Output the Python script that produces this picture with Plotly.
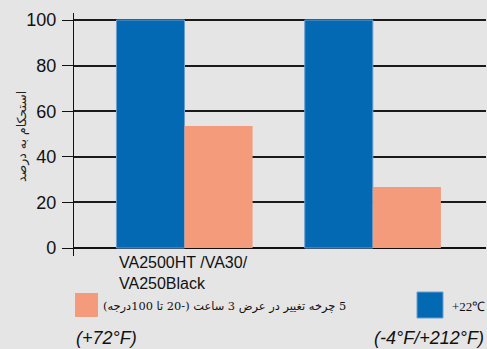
import plotly.graph_objects as go

# Data
categories = ["g1", "g2"]
category_labels = ["VA2500HT /VA30/<br>VA250Black", ""]
series_names = ["+22 ℃", "5 چرخه تغییر در عرض 3 ساعت (-20 تا 100درجه)"]
blue_values = [100, 100]
orange_values = [53.5, 26.8]
y_ticks = [0, 20, 40, 60, 80, 100]
y_title = "استحکام به درصد"
footnotes = ["(+72°F)", "(-4°F/+212°F)"]

BLUE = "#0369b3"
BLUE_EDGE = "#6d9fd0"
ORANGE = "#f39b7b"
BG = "#e5e5e5"

# Plot area in pixels (used to place the hand-built legend)
L, R, T, B, W, H = 74, 1, 13, 93, 487, 349
PW, PH = W - L - R, H - T - B


def px_x(p):
    return (p - L) / PW


def px_y(p):
    return (H - p - B) / PH


fig = go.Figure()
fig.add_trace(go.Bar(x=categories, y=blue_values, name=series_names[0],
                     marker=dict(color=BLUE, line=dict(color=BLUE_EDGE, width=1)),
                     showlegend=False))
fig.add_trace(go.Bar(x=categories, y=orange_values, name=series_names[1],
                     marker=dict(color=ORANGE, line=dict(width=0)),
                     showlegend=False))

fig.update_layout(
    width=W, height=H,
    margin=dict(l=L, r=R, t=T, b=B),
    paper_bgcolor=BG, plot_bgcolor=BG,
    barmode="group", bargap=0.277, bargroupgap=0,
    font=dict(family="Liberation Sans, Arial, sans-serif", color="#111"),
    xaxis=dict(range=[-0.587, 1.601], showticklabels=False, showgrid=False,
               zeroline=False, showline=False, ticks=""),
    yaxis=dict(range=[-3.5, 103.07], tickvals=y_ticks, ticks="outside", ticklen=11,
               tickcolor="#111", tickwidth=1.3,
               showgrid=True, gridcolor="#1a1a1a", gridwidth=1.6,
               zeroline=True, zerolinecolor="#111", zerolinewidth=1.6,
               showline=True, linecolor="#111", linewidth=1.3,
               tickfont=dict(size=18, color="#111"), ticklabelstandoff=2),
)

# Category label, left-aligned under the first group
fig.add_annotation(x=0, y=0, xref="x", yref="y", xshift=-68, yshift=-4,
                   text=category_labels[0], showarrow=False, xanchor="left", yanchor="top",
                   align="left", font=dict(size=16, color="#111"))

# Y-axis title
fig.add_annotation(x=px_x(22), y=px_y(137), xref="paper", yref="paper", text=y_title,
                   showarrow=False, textangle=-90, xanchor="center", yanchor="middle",
                   font=dict(size=12.5, color="#222", family="DejaVu Sans, sans-serif"))

# Legend made of squares and text
fig.add_shape(type="rect", xref="paper", yref="paper",
              x0=px_x(75), x1=px_x(98), y0=px_y(317), y1=px_y(293),
              fillcolor=ORANGE, line=dict(width=0))
fig.add_annotation(x=px_x(101), y=px_y(306), xref="paper", yref="paper",
                   text="\u202B" + series_names[1] + "\u202C", showarrow=False,
                   xanchor="left", yanchor="middle",
                   font=dict(size=11.4, color="#111", family="DejaVu Serif, DejaVu Sans, serif"))
fig.add_shape(type="rect", xref="paper", yref="paper",
              x0=px_x(417), x1=px_x(443), y0=px_y(318), y1=px_y(292),
              fillcolor=BLUE, line=dict(color=BLUE_EDGE, width=1))
fig.add_annotation(x=px_x(450), y=px_y(306), xref="paper", yref="paper",
                   text=series_names[0].replace(" ", ""), showarrow=False,
                   xanchor="left", yanchor="middle",
                   font=dict(size=13, color="#111", family="Liberation Serif, serif"))

# Fahrenheit equivalents
fig.add_annotation(x=px_x(74), y=px_y(338), xref="paper", yref="paper",
                   text="<i>" + footnotes[0] + "</i>", showarrow=False,
                   xanchor="left", yanchor="middle",
                   font=dict(size=18, color="#111"))
fig.add_annotation(x=px_x(486), y=px_y(338), xref="paper", yref="paper",
                   text="<i>" + footnotes[1] + "</i>", showarrow=False,
                   xanchor="right", yanchor="middle",
                   font=dict(size=18, color="#111"))

fig.write_html("out.html")
